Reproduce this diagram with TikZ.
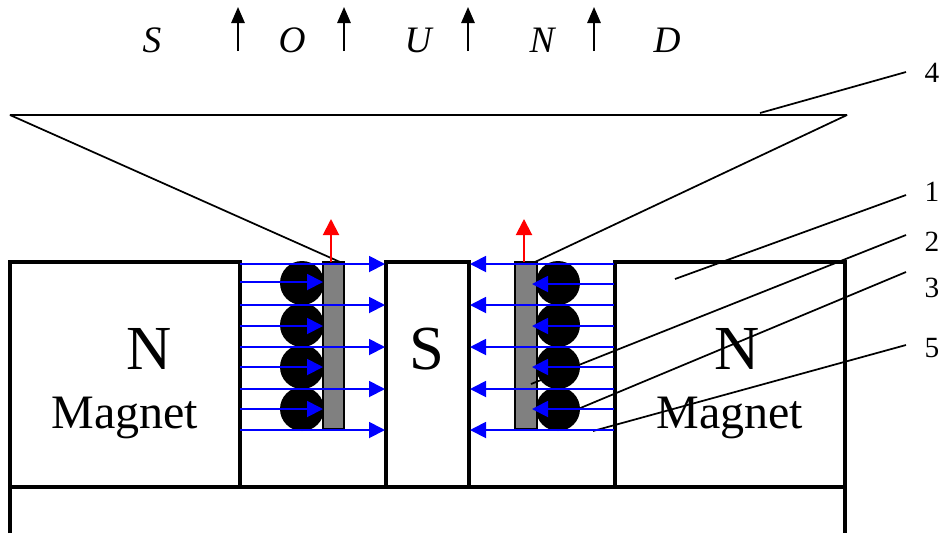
\documentclass[tikz,border=0pt]{standalone}
\usepackage{fontspec}
\setmainfont{Liberation Serif}
\usetikzlibrary{arrows.meta}

\tikzset{
  magnet/.style={draw=black, line width=2.7pt},
  flux/.style={blue, line width=1.4pt, -{Triangle[length=12pt, width=12pt]}},
  motion/.style={red, line width=1.5pt, -{Triangle[length=12pt, width=12pt]}},
  wave/.style={black, line width=1.4pt, -{Triangle[length=12pt, width=10pt]}},
  lead/.style={black, line width=1.3pt, line join=bevel},
  former/.style={draw=black, line width=1.6pt, fill=black!50},
  letter/.style={font=\fontsize{28}{28}\selectfont\itshape},
  tag/.style={font=\fontsize{22}{22}\selectfont},
  pole/.style={font=\fontsize{47}{47}\selectfont},
  word/.style={font=\fontsize{36}{36}\selectfont},
}

\begin{document}
\begin{tikzpicture}[x=.75pt, y=-.75pt]
  \useasboundingbox (0, 0) rectangle (944, 533);

  % sound
  \node[letter] (letterS) at (152, 40) {S};
  \node[letter] (letterO) at (292, 40) {O};
  \node[letter] (letterU) at (418, 40) {U};
  \node[letter] (letterN) at (542, 40) {N};
  \node[letter] (letterD) at (667, 40) {D};

  \foreach \x in {238, 344, 468, 594}{
      \draw[wave] (\x, 51) -- (\x, 7);
    }

  % cone
  \coordinate (coneL) at (10, 115);
  \coordinate (coneR) at (847, 115);
  \coordinate (neckL) at (340, 262);
  \coordinate (neckR) at (535, 262);
  \draw[lead] (neckL) -- (coneL) -- (coneR) -- (neckR);

  % magnets
  \draw[magnet] (10, 533) -- (10, 262) -- (240, 262) -- (240, 487);
  \draw[magnet] (386, 487) -- (386, 262) -- (469, 262) -- (469, 487);
  \draw[magnet] (615, 487) -- (615, 262) -- (845, 262) -- (845, 533);
  \draw[black, line width=3.4pt] (10, 487) -- (845, 487);

  % coils
  \foreach \y in {283, 325, 367, 409}{
      \fill[black] (302, \y) circle (22);
      \fill[black] (558, \y) circle (22);
    }
  \draw[former] (323, 262) rectangle (344, 429);
  \draw[former] (515, 262) rectangle (537, 429);

  \draw[motion] (331, 262) -- (331, 219);
  \draw[motion] (524, 262) -- (524, 219);

  % leaders
  \coordinate (tip4) at (760, 113);
  \coordinate (end4) at (906, 72);
  \coordinate (tip1) at (675, 279);
  \coordinate (end1) at (906, 195);
  \coordinate (tip2) at (531, 384);
  \coordinate (end2) at (906, 235);
  \coordinate (tip3) at (578, 409);
  \coordinate (end3) at (906, 272);
  \coordinate (tip5) at (593, 431);
  \coordinate (end5) at (906, 345);
  \foreach \n in {1, 2, 3, 4, 5}{
      \draw[lead] (tip\n) -- (end\n);
    }

  % flux lines
  \foreach \y in {264, 305, 347, 389, 430}{
      \draw[flux] (240, \y) -- (385, \y);
      \draw[flux] (614, \y) -- (470, \y);
    }
  \foreach \y/\z in {282/284, 326/326, 367/367, 409/409}{
      \draw[flux] (240, \y) -- (323, \y);
      \draw[flux] (614, \z) -- (532, \z);
    }

  % labels
  \node[pole] (poleL) at (149, 349) {N};
  \node[word] (wordL) at (125, 418) {Magnet};
  \node[pole] (poleS) at (427, 349) {S};
  \node[pole] (poleR) at (737, 349) {N};
  \node[word] (wordR) at (730, 418) {Magnet};

  \node[tag] (tag4) at (932, 73) {4};
  \node[tag] (tag1) at (932, 192) {1};
  \node[tag] (tag2) at (932, 242) {2};
  \node[tag] (tag3) at (932, 288) {3};
  \node[tag] (tag5) at (932, 348) {5};

\end{tikzpicture}
\end{document}
